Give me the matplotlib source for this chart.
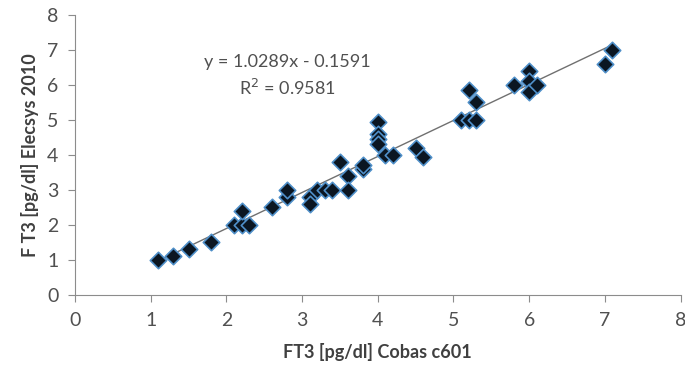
import numpy as np
import matplotlib
matplotlib.use("Agg")
import matplotlib.pyplot as plt

plt.rcParams['font.family'] = ['Lato', 'DejaVu Sans']

# 데이터 (Cobas c601 vs Elecsys 2010)
cobas = [1.1, 1.3, 1.5, 1.8, 2.1, 2.2, 2.2, 2.3, 2.6, 2.8, 2.8,
         3.1, 3.1, 3.2, 3.3, 3.4, 3.5, 3.6, 3.6, 3.8, 3.8,
         4.0, 4.0, 4.0, 4.0, 4.1, 4.2, 4.5, 4.6,
         5.1, 5.2, 5.3, 5.2, 5.3, 5.8, 6.0, 6.0, 6.0, 6.1, 7.0, 7.1]
elecsys = [1.0, 1.1, 1.3, 1.5, 2.0, 2.0, 2.4, 2.0, 2.5, 2.8, 3.0,
           2.8, 2.6, 3.0, 3.0, 3.0, 3.8, 3.4, 3.0, 3.6, 3.7,
           4.95, 4.6, 4.45, 4.3, 4.0, 4.0, 4.2, 3.95,
           5.0, 5.0, 5.0, 5.85, 5.5, 6.0, 6.4, 6.1, 5.8, 6.0, 6.6, 7.0]

slope, intercept = 1.0289, -0.1591
r2 = 0.9581

fig = plt.figure(figsize=(6.85, 3.72), dpi=100)
ax = fig.add_axes([0.1095, 0.207, 0.884, 0.753])

# 추세선
xs = np.array([min(cobas), max(cobas)])
ax.plot(xs, slope * xs + intercept, color='#707070', lw=1.0, zorder=2)

ax.scatter(cobas, elecsys, marker='D', s=70, facecolor='#0b1622',
           edgecolor='#4f8fc9', linewidth=1.2, zorder=3)

ax.text(2.8, 6.66, 'y = %.4fx - %.4f' % (slope, -intercept), ha='center',
        va='center', fontsize=13, color='#505050')
ax.text(2.8, 5.91, 'R$^2$ = %.4f' % r2, ha='center', va='center',
        fontsize=13, color='#505050')

ax.set_xlim(0, 8)
ax.set_ylim(0, 8)
ax.set_xticks(range(0, 9))
ax.set_yticks(range(0, 9))

for s in ['top', 'right']:
    ax.spines[s].set_visible(False)
for s in ['left', 'bottom']:
    ax.spines[s].set_color('#8c8c8c')
ax.tick_params(colors='#8c8c8c', labelcolor='#505050', labelsize=14,
               length=5, direction='out', pad=7)

ax.set_xlabel('FT3 [pg/dl] Cobas c601', fontsize=13, fontweight='bold',
              color='#404040', labelpad=10)
ax.set_ylabel('F T3 [pg/dl] Elecsys 2010', fontsize=13, fontweight='bold',
              color='#404040', labelpad=6)

fig.savefig('out.png', dpi=100)
